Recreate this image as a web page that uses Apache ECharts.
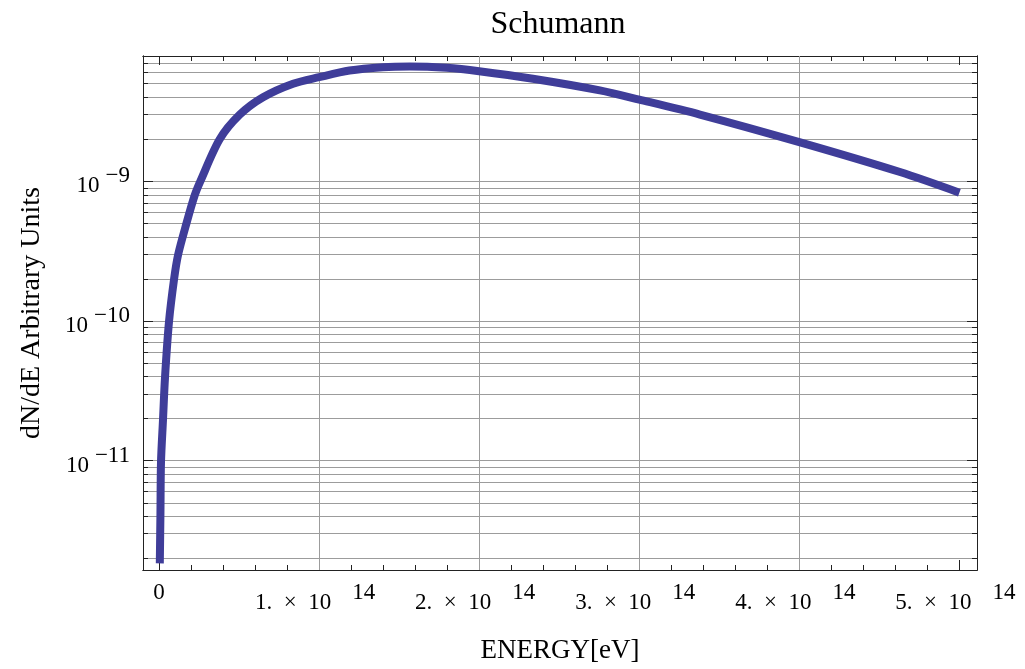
<!DOCTYPE html>
<html>
<head>
<meta charset="utf-8">
<script src="https://cdn.jsdelivr.net/npm/echarts@6/dist/echarts.min.js"></script>
<style>
html,body{margin:0;padding:0;background:#fff;}
#c{width:1025px;height:669px;}
</style>
</head>
<body>
<div id="c"></div>
<script>
// ---- data ----
const energy = [0.005e14, 0.009e14, 0.0125e14, 0.025e14, 0.0375e14, 0.0625e14, 0.094e14, 0.119e14,
  0.171e14, 0.223e14, 0.258e14, 0.379e14, 0.504e14, 0.65e14, 0.8375e14, 1.0e14, 1.19e14,
  1.398e14, 1.567e14, 1.796e14, 2.0e14, 2.336e14, 2.754e14, 3.0e14, 3.379e14, 4.0e14,
  4.629e14, 5.0e14];
const flux = [1.84e-12, 4.2e-12, 9.8e-12, 1.97e-11, 3.95e-11, 9.9e-11, 1.99e-10, 2.97e-10,
  4.98e-10, 7.94e-10, 1.0e-9, 2.0e-9, 3.0e-9, 4.0e-9, 5.0e-9, 5.57e-9, 6.22e-9,
  6.57e-9, 6.65e-9, 6.5e-9, 6.15e-9, 5.43e-9, 4.48e-9, 3.85e-9, 3.01e-9, 1.91e-9,
  1.166e-9, 8.3e-10];

const xMajorTicks = [0, 1e14, 2e14, 3e14, 4e14, 5e14];
const xTickMantissas = ['0', '1.', '2.', '3.', '4.', '5.'];
const xTickExponent = '14';
const xMinorTicks = [2e13, 4e13, 6e13, 8e13, 1.2e14, 1.4e14, 1.6e14, 1.8e14, 2.2e14, 2.4e14, 2.6e14, 2.8e14,
  3.2e14, 3.4e14, 3.6e14, 3.8e14, 4.2e14, 4.4e14, 4.6e14, 4.8e14];
const xGridValues = [1e14, 2e14, 3e14, 4e14];
const yMinorTicks = [2e-12, 3e-12, 4e-12, 5e-12, 6e-12, 7e-12, 8e-12, 9e-12,
  2e-11, 3e-11, 4e-11, 5e-11, 6e-11, 7e-11, 8e-11, 9e-11,
  2e-10, 3e-10, 4e-10, 5e-10, 6e-10, 7e-10, 8e-10, 9e-10,
  2e-9, 3e-9, 4e-9, 5e-9, 6e-9, 7e-9];

const titleText = 'Schumann';
const xName = 'ENERGY[eV]';
const yName = 'dN/dE Arbitrary Units';

// ---- chart ----
const FONT = 'Liberation Serif';
const X_MIN = -1e13, X_MAX = 5.11e14;
const Y_MIN = 1.65e-12, Y_MAX = 7.9e-9;
const frame = {color: '#222', width: 1};
const gridStyle = {color: '#9c9c9c', width: 1, type: 'solid'};

const xRich = {
  z: {fontFamily: FONT, fontSize: 23, color: '#000'},
  b: {fontFamily: FONT, fontSize: 23, color: '#000', padding: [10, 0, 0, 0]},
  s: {fontFamily: FONT, fontSize: 23, color: '#000', padding: [0, 8, 10, 21]}
};
const yRich = {
  b: {fontFamily: FONT, fontSize: 23, color: '#000', padding: [10, 0, 0, 0]},
  s: {fontFamily: FONT, fontSize: 23, color: '#000', padding: [0, 0, 10, 6]}
};

function xLabel(v) {
  const i = xMajorTicks.indexOf(v);
  if (i < 0) return '';
  if (i === 0) return '{z|' + xTickMantissas[0] + '}';
  return '{b|' + xTickMantissas[i] + '  \u00d7  10}{s|' + xTickExponent + '}';
}
function yLabel(v) {
  const l = Math.log10(v);
  const r = Math.round(l);
  if (Math.abs(l - r) > 1e-6) return '';
  return '{b|10}{s|\u2212' + (-r) + '}';
}

function xAx(pos, ticks, len, withLabel) {
  const a = {
    type: 'value', position: pos, min: X_MIN, max: X_MAX,
    axisLine: {show: true, onZero: false, lineStyle: frame},
    axisTick: {show: true, inside: true, length: len, customValues: ticks, lineStyle: frame},
    axisLabel: {show: false},
    splitLine: {show: false}
  };
  if (withLabel) {
    a.axisLabel = {show: true, customValues: xMajorTicks, formatter: xLabel, rich: xRich, margin: 11};
    a.name = xName;
    a.nameLocation = 'middle';
    a.nameGap = 67;
    a.nameTextStyle = {fontFamily: FONT, fontSize: 27, color: '#000'};
  }
  return a;
}
function yAx(pos, minorTicks, withLabel, withGrid) {
  const a = {
    type: 'log', logBase: 10, position: pos, min: Y_MIN, max: Y_MAX,
    axisLine: {show: true, onZero: false, lineStyle: frame},
    axisTick: {show: true, inside: true, length: minorTicks ? 5 : 10, lineStyle: frame},
    axisLabel: {show: false},
    splitLine: {show: !!withGrid, lineStyle: gridStyle},
    minorTick: {show: false}
  };
  if (minorTicks) a.axisTick.customValues = minorTicks;
  if (withLabel) {
    a.axisLabel = {show: true, formatter: yLabel, rich: yRich, margin: 13, showMinLabel: false, showMaxLabel: false};
    a.name = yName;
    a.nameLocation = 'middle';
    a.nameGap = 97;
    a.nameRotate = 90;
    a.nameTextStyle = {fontFamily: FONT, fontSize: 28, color: '#000'};
  }
  return a;
}

const chart = echarts.init(document.getElementById('c'), null, {renderer: 'canvas'});

chart.setOption({
  animation: false,
  backgroundColor: '#fff',
  title: {
    text: titleText, left: 553, top: 4, textAlign: 'center',
    textStyle: {fontFamily: FONT, fontSize: 32, fontWeight: 'normal', color: '#000'}
  },
  grid: {left: 143, right: 48, top: 56, bottom: 99, containLabel: false},
  xAxis: [
    xAx('bottom', xMajorTicks, 10, true),
    xAx('bottom', xMinorTicks, 5, false),
    xAx('top', xMajorTicks, 9, false),
    xAx('top', xMinorTicks, 5, false)
  ],
  yAxis: [
    yAx('left', null, true, true),
    yAx('left', yMinorTicks, false, true),
    yAx('right', null, false, false),
    yAx('right', yMinorTicks, false, false)
  ],
  series: [
    {
      type: 'line', data: [], xAxisIndex: 0, yAxisIndex: 0, z: 1, silent: true,
      markLine: {
        silent: true, symbol: ['none', 'none'], animation: false, z: 1,
        label: {show: false},
        emphasis: {disabled: true},
        lineStyle: gridStyle,
        data: xGridValues.map(v => ({xAxis: v}))
      }
    },
    {
      type: 'line', xAxisIndex: 0, yAxisIndex: 0, z: 10,
      data: energy.map((e, i) => [e, flux[i]]),
      showSymbol: false, smooth: 0.3,
      lineStyle: {color: '#3f3d99', width: 8, cap: 'butt', join: 'round'},
      itemStyle: {color: '#3f3d99'},
      clip: true
    }
  ]
});
</script>
</body>
</html>
